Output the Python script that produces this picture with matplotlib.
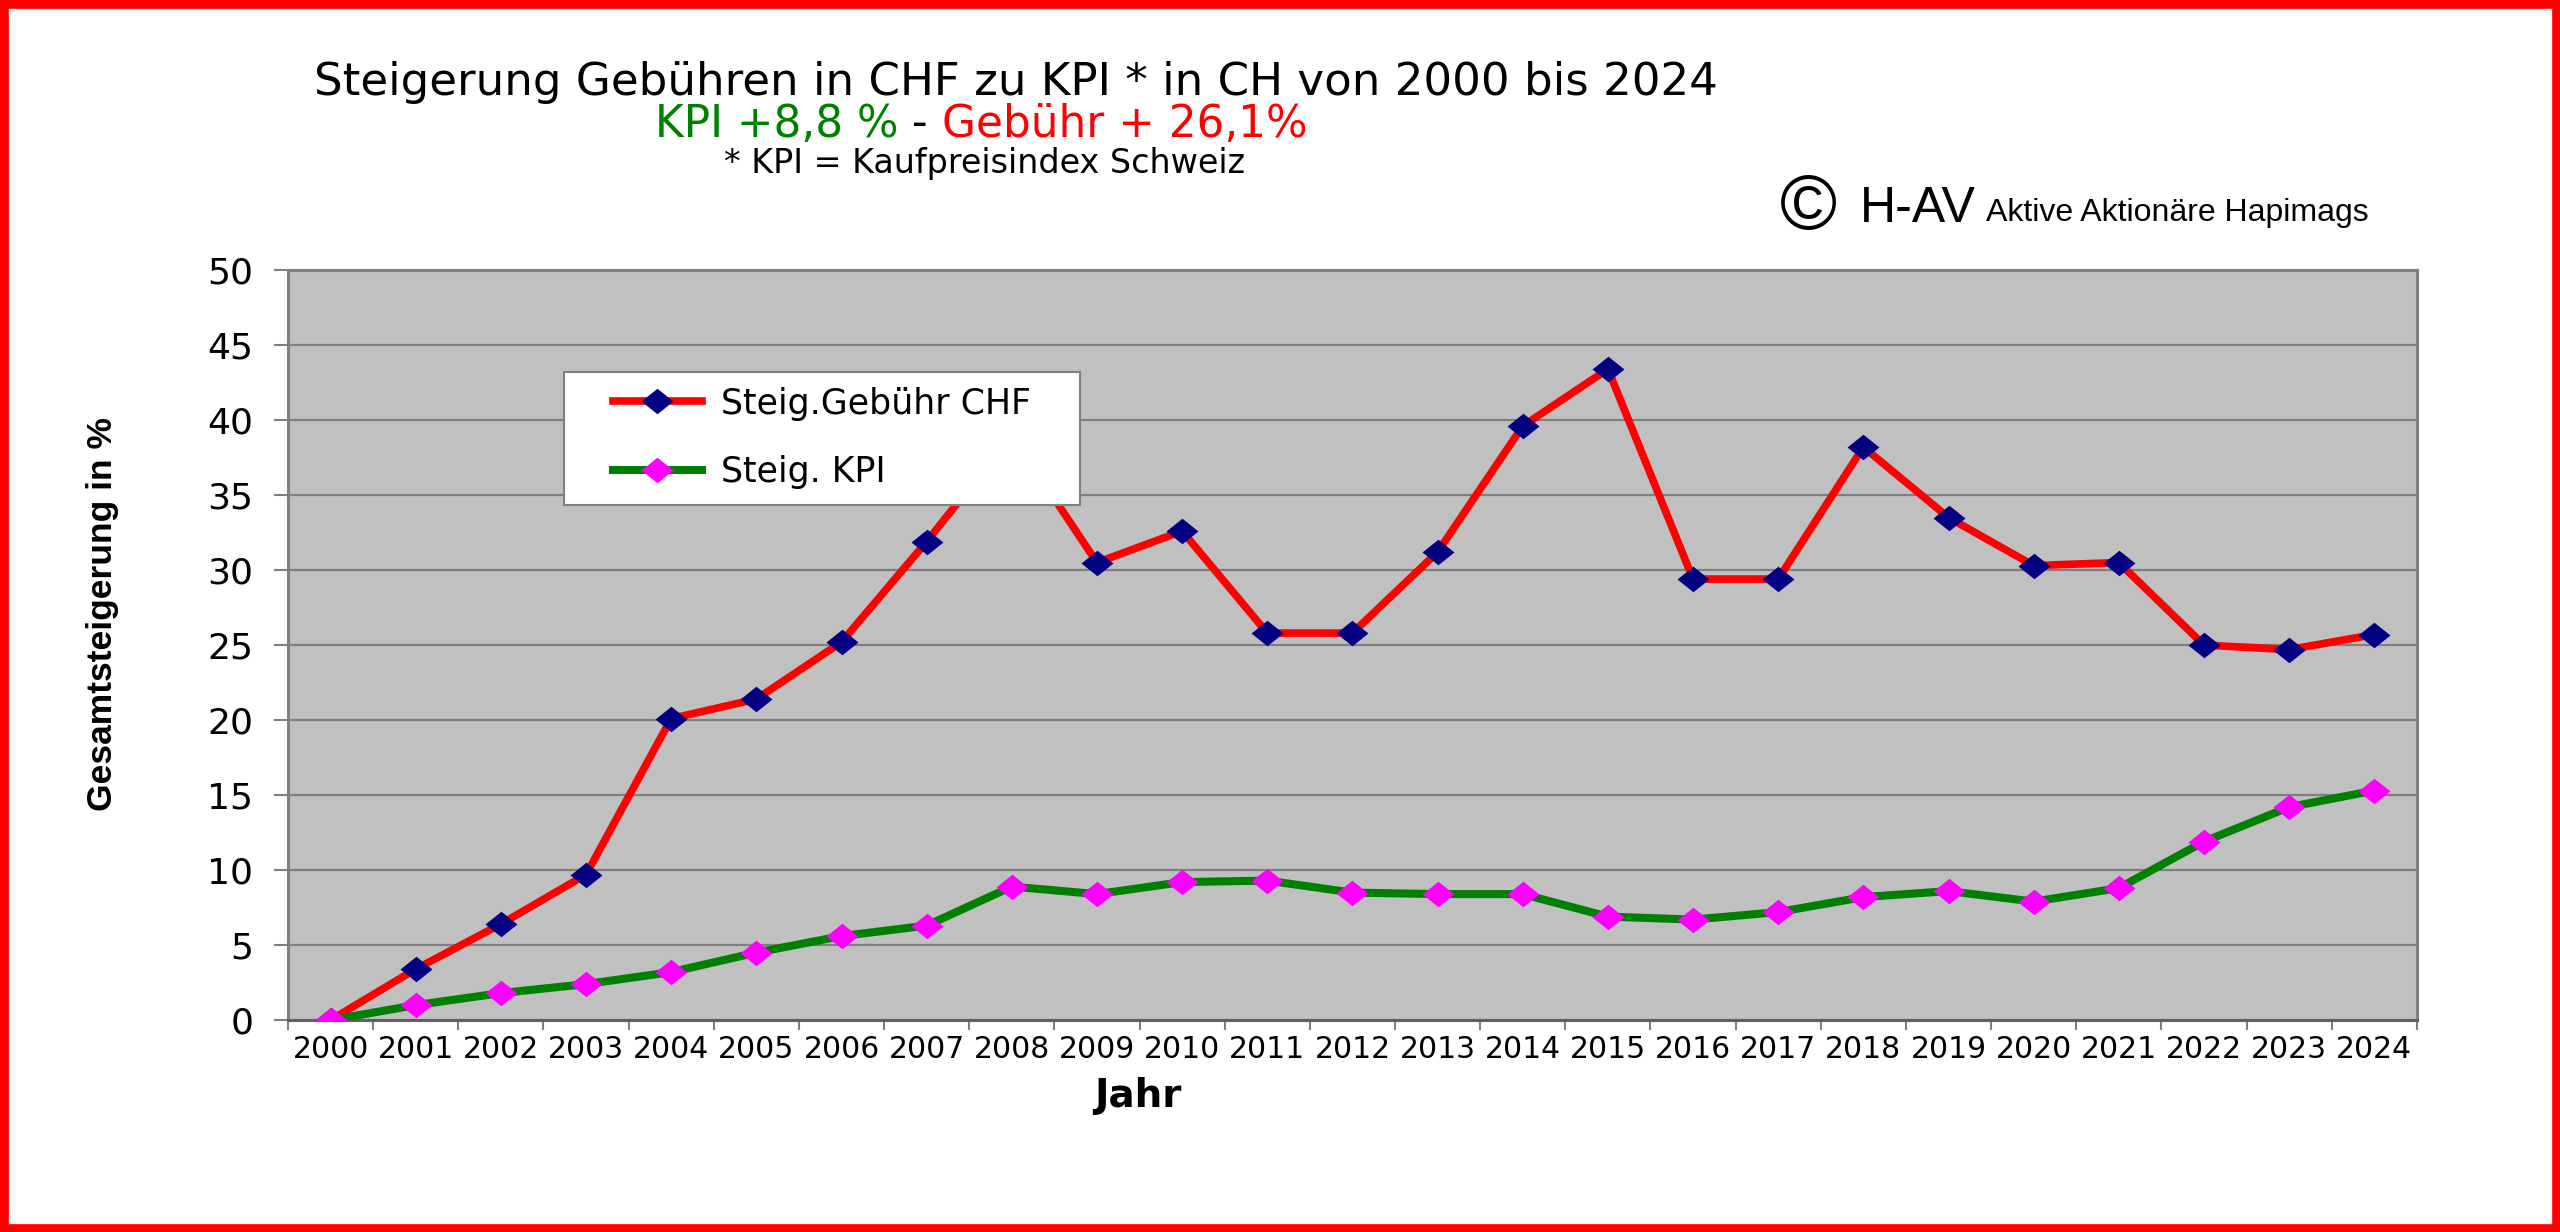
import matplotlib
matplotlib.use("Agg")
import matplotlib.pyplot as plt
import matplotlib.patches as patches
import numpy as np

# Daten
jahre = [str(j) for j in range(2000, 2025)]
gebuehr = [0, 3.4, 6.4, 9.7, 20.1, 21.4, 25.2, 31.9, 39.0, 30.5, 32.6, 25.8, 25.8,
           31.2, 39.6, 43.4, 29.4, 29.4, 38.2, 33.5, 30.3, 30.5, 25.0, 24.7, 25.7]
kpi = [0, 1.0, 1.8, 2.4, 3.2, 4.5, 5.6, 6.3, 8.9, 8.4, 9.2, 9.3, 8.5,
       8.4, 8.4, 6.9, 6.7, 7.2, 8.2, 8.6, 7.9, 8.8, 11.9, 14.2, 15.3]
y_ticks = list(range(0, 51, 5))

label_gebuehr = "Steig.Gebühr CHF"
label_kpi = "Steig. KPI"

# flache Raute wie im Original
raute = [(-1, 0), (0, 0.8), (1, 0), (0, -0.8)]

fig = plt.figure(figsize=(25.6, 12.32), dpi=100)
ax = fig.add_axes([0.1125, 0.172, 0.8316, 0.6088])

x = np.arange(len(jahre))
ax.plot(x, gebuehr, color="#ff0000", linewidth=5.5, marker=raute, markersize=23,
        markerfacecolor="#000080", markeredgecolor="#000080", markeredgewidth=0,
        label=label_gebuehr, zorder=3)
ax.plot(x, kpi, color="#008000", linewidth=5.8, marker=raute, markersize=23,
        markerfacecolor="#ff00ff", markeredgecolor="#ff00ff", markeredgewidth=0,
        label=label_kpi, zorder=3)

ax.set_facecolor("#c0c0c0")
ax.set_xlim(-0.5, len(jahre) - 0.5)
ax.set_ylim(0, 50)
ax.set_yticks(y_ticks)
ax.yaxis.grid(True, color="#7f7f7f", linewidth=1.6)
ax.set_axisbelow(True)

ax.set_xticks(x)
ax.set_xticklabels(jahre)
ax.set_xticks(np.arange(-0.5, len(jahre), 1), minor=True)
ax.tick_params(axis="x", which="major", length=0, pad=11, labelsize=21.5)
ax.tick_params(axis="x", which="minor", length=7, width=1.5, color="#808080")
ax.tick_params(axis="y", length=10, width=1.5, color="#808080", pad=15, labelsize=26)

for s in ax.spines.values():
    s.set_color("#808080")
    s.set_linewidth(2.2)
ax.spines["bottom"].set_color("#606060")

# Legende mit eigenem Rahmen
rahmen = patches.Rectangle((564 / 2560, 1 - 505 / 1232), 516 / 2560, 133 / 1232,
                           transform=fig.transFigure, facecolor="white",
                           edgecolor="#808080", linewidth=1.5, zorder=4)
ax.add_patch(rahmen)
rahmen.set_clip_on(False)
leg = ax.legend(loc="center left", bbox_to_anchor=(613 / 2560, 1 - 438 / 1232),
                bbox_transform=fig.transFigure, frameon=False, fontsize=25,
                borderpad=0, borderaxespad=0, handlelength=2.55, handletextpad=0.55,
                labelspacing=1.0, numpoints=1)
leg.set_zorder(5)

# Achsentitel
fig.text(1138 / 2560, 1 - 1096 / 1232, "Jahr", fontsize=28, fontweight="bold",
         ha="center", va="center")
fig.text(103 / 2560, 1 - 614 / 1232, "Gesamtsteigerung in %", fontsize=25.5,
         fontweight="bold", family="Liberation Sans", rotation=90,
         ha="center", va="center")

# Titel
fig.text(1016 / 2560, 1 - 82 / 1232,
         "Steigerung Gebühren in CHF zu KPI * in CH von 2000 bis 2024",
         fontsize=32.5, ha="center", va="center")
t1 = fig.text(655 / 2560, 1 - 124 / 1232, "KPI +8,8 %", fontsize=31.5,
              color="#008000", ha="left", va="center")
t2 = ax.annotate(" - ", xycoords=t1, xy=(1, 0), va="bottom", fontsize=31.5, color="black")
ax.annotate("Gebühr + 26,1%", xycoords=t2, xy=(1, 0), va="bottom", fontsize=31.5,
            color="#ff0000")
fig.text(984 / 2560, 1 - 163 / 1232, "* KPI = Kaufpreisindex Schweiz",
         fontsize=24, ha="center", va="center")

# Copyright
fig.text(1780 / 2560, 1 - 229 / 1232, "©", fontsize=56, family="Liberation Sans",
         ha="left", va="baseline")
fig.text(1860 / 2560, 1 - 222 / 1232, "H-AV", fontsize=36, family="Liberation Sans",
         ha="left", va="baseline")
fig.text(1986 / 2560, 1 - 221 / 1232, "Aktive Aktionäre Hapimags", fontsize=23,
         family="Liberation Sans", ha="left", va="baseline")

# roter Rand
fig.add_artist(patches.Rectangle((0, 0), 1, 1, transform=fig.transFigure, fill=False,
                                 edgecolor="#ff0000", linewidth=12, zorder=10))

fig.savefig("out.png", dpi=100, facecolor="white")
